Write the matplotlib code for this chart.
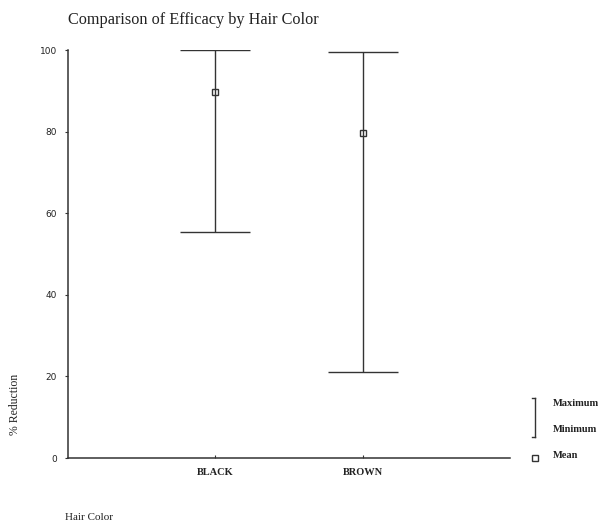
import matplotlib
matplotlib.use("Agg")
import matplotlib.pyplot as plt
from matplotlib.lines import Line2D

categories = ["BLACK", "BROWN"]
maximum = [100.0, 99.5]
minimum = [55.5, 21.0]
mean = [89.7, 79.6]
yticks = [0, 20, 40, 60, 80, 100]

col = "#333333"
fig = plt.figure(figsize=(6.04, 5.25), dpi=100)
ax = fig.add_axes([68/604, 1-458/525, (510-68)/604, (458-50)/525])

xs = [1, 2]
lower = [m - lo for m, lo in zip(mean, minimum)]
upper = [hi - m for m, hi in zip(mean, maximum)]
ax.errorbar(xs, mean, yerr=[lower, upper], fmt="s", color=col, ecolor=col,
            elinewidth=1.0, capsize=25, capthick=1.0, markersize=5,
            markerfacecolor="none", markeredgecolor=col, markeredgewidth=1.0)

ax.set_xlim(0, 3)
ax.set_ylim(0, 100)
ax.set_xticks(xs)
ax.set_xticklabels(categories, fontsize=7.5, family="Liberation Serif", fontweight="bold", color="#222")
ax.set_yticks(yticks)
ax.set_yticklabels([str(t) for t in yticks], fontsize=6.5, family="DejaVu Sans", color="#222")
ax.tick_params(axis="y", length=2, width=0.8, color=col, pad=6)
ax.tick_params(axis="x", length=2, width=0.8, color=col, pad=7, direction="in")
for s in ["top", "right"]:
    ax.spines[s].set_visible(False)
for s in ["left", "bottom"]:
    ax.spines[s].set_color(col)
    ax.spines[s].set_linewidth(1.1)

fig.text(68/604, 1-20/525, "Comparison of Efficacy by Hair Color", fontsize=11.7,
         family="Liberation Serif", color="#222", va="center", ha="left")
fig.text(15/604, 1-404/525, "% Reduction", rotation=90, fontsize=8.5,
         family="Liberation Serif", color="#222", va="center", ha="center")
fig.text(65/604, 1-517/525, "Hair Color", fontsize=8,
         family="Liberation Serif", color="#222", va="center", ha="left")

# legend
lx = 535/604
fig.add_artist(Line2D([lx, lx], [1-398/525, 1-437/525], color=col, lw=1.0, transform=fig.transFigure))
for yy in [398, 437]:
    fig.add_artist(Line2D([lx-3/604, lx], [1-yy/525, 1-yy/525], color=col, lw=1.0, transform=fig.transFigure))
fig.add_artist(Line2D([lx], [1-458/525], marker="s", markersize=5, markerfacecolor="none",
                      markeredgecolor=col, markeredgewidth=1.0, linestyle="none", transform=fig.transFigure))
for label, yy in [("Maximum", 403), ("Minimum", 430), ("Mean", 455)]:
    fig.text(553/604, 1-yy/525, label, fontsize=7.5, family="Liberation Serif", fontweight="bold",
             color="#222", va="center", ha="left")

fig.savefig("out.png", dpi=100)
